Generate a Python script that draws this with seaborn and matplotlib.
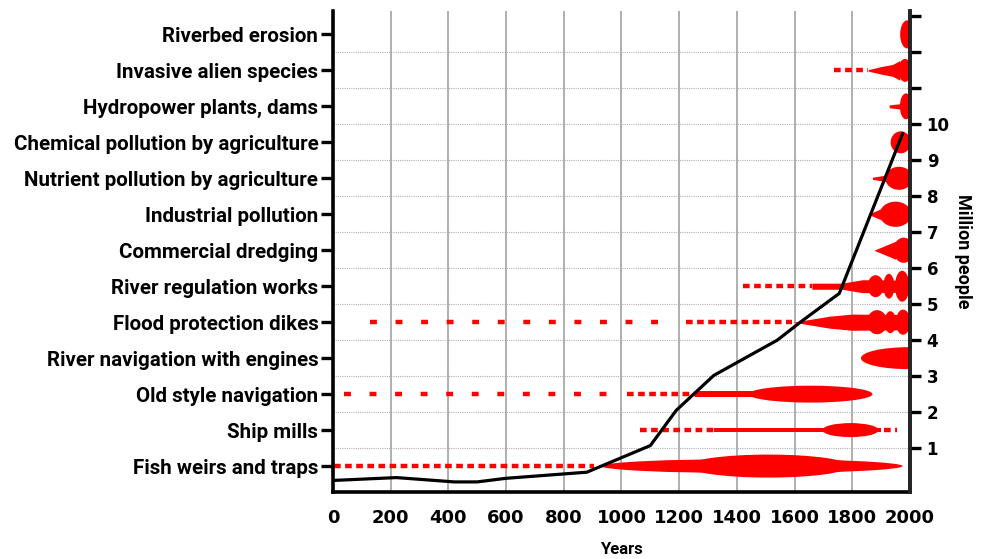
import numpy as np
import pandas as pd
import seaborn as sns
import matplotlib.pyplot as plt
from matplotlib.patches import Ellipse


# ----------------------------
# Data
# ----------------------------

# categories, bottom -> top
pressures = [
    "Fish weirs and traps",
    "Ship mills",
    "Old style navigation",
    "River navigation with engines",
    "Flood protection dikes",
    "River regulation works",
    "Commercial dredging",
    "Industrial pollution",
    "Nutrient pollution by agriculture",
    "Chemical pollution by agriculture",
    "Hydropower plants, dams",
    "Invasive alien species",
    "Riverbed erosion",
]

# population in the basin (million people)
pop_years   = [0, 220, 420, 500, 600, 880, 1100, 1190, 1320, 1540, 1620, 1755, 1975]
pop_million = [0.10, 0.18, 0.06, 0.06, 0.16, 0.33, 1.07, 2.05, 3.02, 4.0, 4.5, 5.3, 9.75]

# uncertain / sporadic periods (dotted)
dot_rows  = [0, 1, 1, 2, 2, 4, 4, 5, 11]
dot_start = [5, 1065, 1910, 40, 1020, 130, 1225, 1420, 1735]
dot_end   = [905, 1320, 1955, 1000, 1260, 1145, 1590, 1660, 1855]
dot_dense = [True, True, True, False, True, False, True, True, True]

# continuous pressure bands: row, years, thickness (fraction of a row)
band_rows  = [1, 2, 4, 5, 6, 7, 8, 10, 11]
band_years = [
    [1320, 1900],
    [1255, 1600],
    [1595, 1720, 1800, 2000],
    [1660, 1765, 1835, 2000],
    [1875, 1950],
    [1855, 1900],
    [1870, 1925],
    [1928, 1968],
    [1855, 1900, 1940, 1965],
]
band_thick = [
    [0.125, 0.125],
    [0.15, 0.15],
    [0.0, 0.33, 0.45, 0.42],
    [0.17, 0.17, 0.36, 0.33],
    [0.0, 0.50],
    [0.0, 0.31],
    [0.06, 0.20],
    [0.08, 0.15],
    [0.04, 0.21, 0.33, 0.55],
]

# intensity peaks: row, centre year, duration (years), thickness (fraction of a row)
blob_rows  = [0, 0, 1, 2, 3, 4, 4, 4, 5, 5, 5, 6, 7, 8, 9, 10, 11, 12]
blob_year  = [1452, 1510, 1794, 1655, 1995, 1886, 1932, 1976, 1881, 1927, 1973,
              1978, 1950, 1962, 1968, 1986, 1983, 1990]
blob_len   = [1045, 560, 195, 430, 330, 70, 40, 50, 55, 38, 50,
              70, 110, 95, 70, 42, 45, 48]
blob_thick = [0.39, 0.64, 0.39, 0.47, 0.61, 0.67, 0.61, 0.70, 0.61, 0.69, 0.86,
              0.70, 0.70, 0.64, 0.61, 0.72, 0.64, 0.78]

year_ticks = list(range(0, 2001, 200))


# ----------------------------
# Style
# ----------------------------

sns.set_style("white")
plt.rcParams["font.family"] = ["Roboto", "DejaVu Sans"]
plt.rcParams["font.weight"] = "bold"
plt.rcParams["axes.labelweight"] = "bold"
plt.rcParams["text.color"] = "black"
plt.rcParams["axes.labelcolor"] = "black"
plt.rcParams["xtick.color"] = "black"
plt.rcParams["ytick.color"] = "black"

RED = "#ff0000"
NUM_FONT = {"family": ["DejaVu Sans"], "weight": "bold"}


# ----------------------------
# Figure
# ----------------------------

fig = plt.figure(figsize=(9.81, 5.59), dpi=100)
ax = fig.add_axes([0.3394, 0.1199, 0.5882, 0.8604])
ax.set_xlim(0, 2000)
ax.set_ylim(-0.22, 13.15)

# grid
for yr in year_ticks[1:-1]:
    ax.axvline(yr, color="#9a9a9a", lw=1.1, zorder=0)
for b in range(1, len(pressures)):
    ax.axhline(b, color="#b0b0b0", lw=0.8, ls=(0, (1, 1)), zorder=0)

# dotted periods
for r, s, e, dense in zip(dot_rows, dot_start, dot_end, dot_dense):
    ls = (0, (1.5, 1.0)) if dense else (0, (1.55, 4.2))
    ax.plot([s, e], [r + 0.5, r + 0.5], color=RED, lw=3.2, ls=ls,
            dash_capstyle="butt", zorder=2)

# bands
for r, yrs, th in zip(band_rows, band_years, band_thick):
    c = r + 0.5
    th = np.array(th)
    ax.fill_between(yrs, c - th / 2, c + th / 2, color=RED, lw=0, zorder=2)

# peaks
for r, yr, ln, th in zip(blob_rows, blob_year, blob_len, blob_thick):
    ax.add_patch(Ellipse((yr, r + 0.5), ln, th, color=RED, lw=0, zorder=2))

# population line
pop = pd.DataFrame({"year": pop_years, "million": pop_million})
sns.lineplot(data=pop, x="year", y="million", ax=ax, color="black", lw=2.3,
             zorder=5, sort=False)

# left axis: pressures
ax.set_yticks([i + 0.5 for i in range(len(pressures))])
ax.set_yticklabels(pressures, fontsize=14.8, fontweight="bold")
ax.set_xticks(year_ticks)
ax.set_xticklabels([str(y) for y in year_ticks], fontsize=13, fontdict=NUM_FONT)
ax.tick_params(axis="y", length=8.5, width=2.4, pad=2, color="black")
ax.tick_params(axis="x", length=7, width=2.4, pad=5, color="black")
ax.set_xlabel("Years", fontsize=12, fontweight="bold", labelpad=11)
ax.set_ylabel("")

for side in ["left", "bottom", "right"]:
    ax.spines[side].set_linewidth(2.6)
    ax.spines[side].set_color("black")
ax.spines["top"].set_visible(False)

# right axis: population
ax2 = ax.twinx()
ax2.set_ylim(ax.get_ylim())
ax2.set_yticks(range(1, 14))
ax2.set_yticklabels([str(i) if i <= 10 else "" for i in range(1, 14)],
                    fontsize=12, fontdict=NUM_FONT)
ax2.tick_params(axis="y", length=8, width=2.4, pad=4, color="black")
ax2.set_ylabel("Million people", rotation=270, fontsize=13, fontweight="bold",
               labelpad=16)
ax2.spines["right"].set_linewidth(2.6)
for side in ["left", "bottom", "top"]:
    ax2.spines[side].set_visible(False)

fig.savefig("out.png", dpi=100)
